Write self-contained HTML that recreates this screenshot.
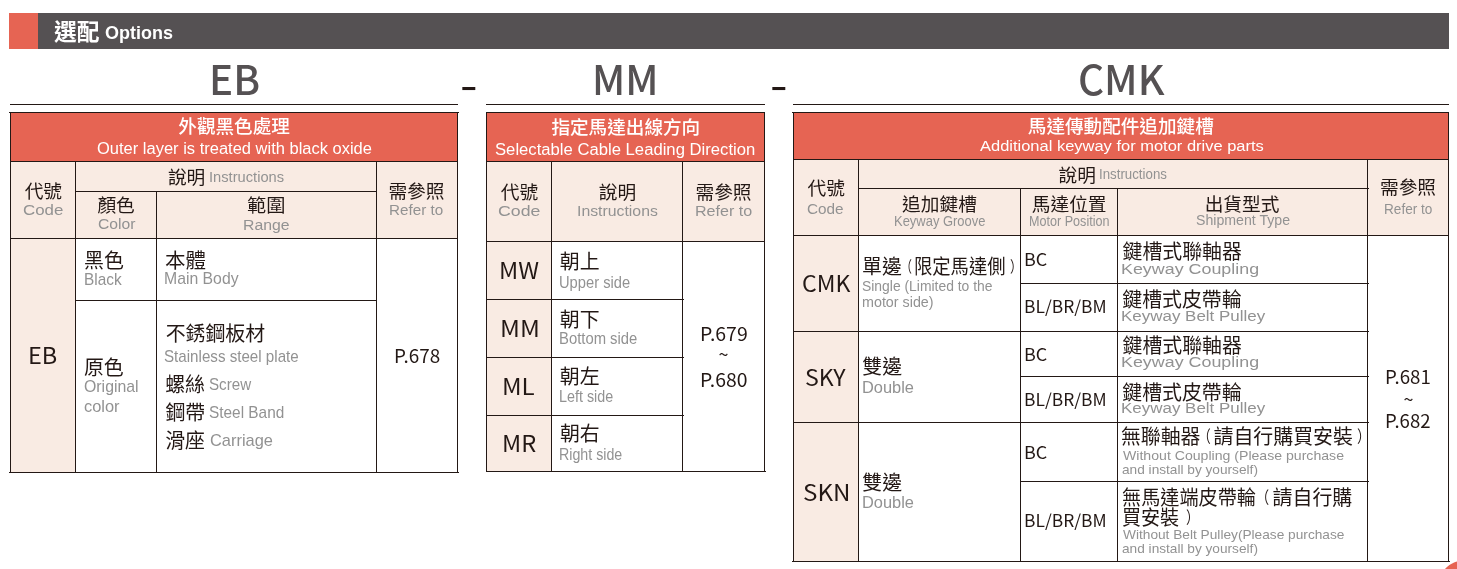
<!DOCTYPE html>
<html lang="zh-Hant"><head><meta charset="utf-8"><title>選配 Options</title>
<style>
html,body{margin:0;padding:0;background:#fff}
#p{position:relative;width:1457px;height:569px;overflow:hidden;background:#fff;will-change:transform}
.r{position:absolute}
.rd{background:#e66453}.pk{background:#f9ebe3}.ln{background:#231815}.gb{background:#555153}
.t{position:absolute;white-space:nowrap;line-height:1;transform-origin:0 0}
.zh{font-family:"Liberation Sans","Noto Sans CJK TC","Noto Sans CJK JP",sans-serif}
.zl{font-family:"Noto Sans CJK TC","Liberation Sans",sans-serif}
.en{font-family:"Liberation Sans",sans-serif}
.k{color:#231815}.g{color:#929292}.w{color:#fff}.b{color:#555153}
</style></head>
<body><div id="p">
<div class="r rd" style="left:9px;top:13px;width:29px;height:36px"></div>
<div class="r gb" style="left:38px;top:13px;width:1411px;height:36px"></div>
<div class="r ln" style="left:10px;top:104px;width:448px;height:1px"></div>
<div class="r ln" style="left:486px;top:104px;width:279px;height:1px"></div>
<div class="r ln" style="left:793px;top:104px;width:656px;height:1px"></div>
<div class="r rd" style="left:10px;top:112px;width:447px;height:49px"></div>
<div class="r pk" style="left:10px;top:161px;width:447px;height:77px"></div>
<div class="r pk" style="left:10px;top:238px;width:65px;height:234px"></div>
<div class="r ln" style="left:9px;top:112px;width:450px;height:1px"></div>
<div class="r ln" style="left:9px;top:472px;width:450px;height:1px"></div>
<div class="r ln" style="left:10px;top:112px;width:1px;height:360px"></div>
<div class="r ln" style="left:457px;top:112px;width:1px;height:361px"></div>
<div class="r ln" style="left:10px;top:161px;width:447px;height:1px"></div>
<div class="r ln" style="left:75px;top:191px;width:301px;height:1px"></div>
<div class="r ln" style="left:10px;top:238px;width:447px;height:1px"></div>
<div class="r ln" style="left:75px;top:300px;width:301px;height:1px"></div>
<div class="r ln" style="left:75px;top:161px;width:1px;height:311px"></div>
<div class="r ln" style="left:156px;top:191px;width:1px;height:281px"></div>
<div class="r ln" style="left:376px;top:161px;width:1px;height:311px"></div>
<div class="r rd" style="left:486px;top:112px;width:278px;height:49px"></div>
<div class="r pk" style="left:486px;top:161px;width:278px;height:80px"></div>
<div class="r pk" style="left:486px;top:241px;width:65px;height:230px"></div>
<div class="r ln" style="left:486px;top:112px;width:279px;height:1px"></div>
<div class="r ln" style="left:486px;top:471px;width:280px;height:1px"></div>
<div class="r ln" style="left:486px;top:112px;width:1px;height:359px"></div>
<div class="r ln" style="left:764px;top:112px;width:1px;height:360px"></div>
<div class="r ln" style="left:486px;top:161px;width:278px;height:1px"></div>
<div class="r ln" style="left:486px;top:241px;width:278px;height:1px"></div>
<div class="r ln" style="left:486px;top:299px;width:198px;height:1px"></div>
<div class="r ln" style="left:486px;top:357px;width:198px;height:1px"></div>
<div class="r ln" style="left:486px;top:415px;width:198px;height:1px"></div>
<div class="r ln" style="left:551px;top:161px;width:1px;height:310px"></div>
<div class="r ln" style="left:682px;top:161px;width:1px;height:310px"></div>
<div class="r rd" style="left:793px;top:112px;width:655px;height:47px"></div>
<div class="r pk" style="left:793px;top:159px;width:655px;height:76px"></div>
<div class="r pk" style="left:793px;top:235px;width:65px;height:326px"></div>
<div class="r ln" style="left:792px;top:112px;width:657px;height:1px"></div>
<div class="r ln" style="left:792px;top:561px;width:658px;height:1px"></div>
<div class="r ln" style="left:793px;top:112px;width:1px;height:449px"></div>
<div class="r ln" style="left:1448px;top:112px;width:1px;height:450px"></div>
<div class="r ln" style="left:793px;top:159px;width:655px;height:1px"></div>
<div class="r ln" style="left:858px;top:188px;width:511px;height:1px"></div>
<div class="r ln" style="left:793px;top:235px;width:655px;height:1px"></div>
<div class="r ln" style="left:1020px;top:283px;width:349px;height:1px"></div>
<div class="r ln" style="left:793px;top:331px;width:576px;height:1px"></div>
<div class="r ln" style="left:1020px;top:376px;width:349px;height:1px"></div>
<div class="r ln" style="left:793px;top:422px;width:576px;height:1px"></div>
<div class="r ln" style="left:1020px;top:481px;width:349px;height:1px"></div>
<div class="r ln" style="left:858px;top:159px;width:1px;height:402px"></div>
<div class="r ln" style="left:1020px;top:188px;width:1px;height:373px"></div>
<div class="r ln" style="left:1117px;top:188px;width:1px;height:373px"></div>
<div class="r ln" style="left:1367px;top:159px;width:1px;height:402px"></div>
<div class="r rd" style="left:1440px;top:561px;width:44px;height:44px;border-radius:50%"></div>
<span id="i0" class="t zh w" style="left:54.1px;top:21.28px;font-size:22.77px;font-weight:700">選配</span>
<span id="i1" class="t en w" style="left:105.26px;top:24.05px;font-size:18.31px;font-weight:700;transform:scaleX(0.9822)">Options</span>
<span id="i2" class="t zl b" style="left:208.93px;top:57.9px;font-size:40.6px;font-weight:500;transform:scaleX(0.9923)">EB</span>
<span id="i3" class="t zl b" style="left:591.75px;top:57.95px;font-size:40.6px;font-weight:500;transform:scaleX(0.9866)">MM</span>
<span id="i4" class="t zl b" style="left:1077.96px;top:58.15px;font-size:40.6px;font-weight:500;transform:scaleX(0.9964)">CMK</span>
<span id="i5" class="t zl k" style="left:459.61px;top:64.75px;font-size:36.0px;font-weight:500;transform:scaleX(1.3684)">-</span>
<span id="i6" class="t zl k" style="left:769.61px;top:64.75px;font-size:36.0px;font-weight:500;transform:scaleX(1.3684)">-</span>
<span id="i7" class="t zh w" style="left:178.32px;top:118.15px;font-size:18.6px;font-weight:500">外觀黑色處理</span>
<span id="i8" class="t en w" style="left:96.96px;top:141.02px;font-size:15.8px;transform:scaleX(1.0439)">Outer layer is treated with black oxide</span>
<span id="i9" class="t zh k" style="left:24.67px;top:183.22px;font-size:18.7px">代號</span>
<span id="i10" class="t en g" style="left:22.97px;top:201.66px;font-size:15.2px;transform:scaleX(1.1114)">Code</span>
<span id="i11" class="t zh k" style="left:167.88px;top:169.25px;font-size:18.7px">說明</span>
<span id="i12" class="t en g" style="left:208.65px;top:168.88px;font-size:15.2px;transform:scaleX(0.9669)">Instructions</span>
<span id="i13" class="t zh k" style="left:97.38px;top:197.18px;font-size:18.7px">顏色</span>
<span id="i14" class="t en g" style="left:97.73px;top:216.07px;font-size:15.2px;transform:scaleX(1.0326)">Color</span>
<span id="i15" class="t zh k" style="left:246.67px;top:197.02px;font-size:18.7px;transform:scaleX(1.0273)">範圍</span>
<span id="i16" class="t en g" style="left:243.1px;top:216.85px;font-size:15.2px;transform:scaleX(1.0409)">Range</span>
<span id="i17" class="t zh k" style="left:388.45px;top:183.42px;font-size:18.7px">需參照</span>
<span id="i18" class="t en g" style="left:389.35px;top:202.35px;font-size:15.2px;transform:scaleX(1.0019)">Refer to</span>
<span id="i19" class="t zl k" style="left:28.23px;top:343.28px;font-size:22.3px;transform:scaleX(1.0531)">EB</span>
<span id="i20" class="t zh k" style="left:84.1px;top:252.33px;font-size:19.9px">黑色</span>
<span id="i21" class="t en g" style="left:83.71px;top:270.85px;font-size:16.1px;transform:scaleX(0.9553)">Black</span>
<span id="i22" class="t zh k" style="left:164.93px;top:252.48px;font-size:19.9px;transform:scaleX(1.0327)">本體</span>
<span id="i23" class="t en g" style="left:164.47px;top:269.75px;font-size:16.1px;transform:scaleX(0.9806)">Main Body</span>
<span id="i24" class="t zh k" style="left:83.92px;top:359.18px;font-size:19.9px">原色</span>
<span id="i25" class="t en g" style="left:83.76px;top:378.12px;font-size:16.1px;transform:scaleX(0.985)">Original</span>
<span id="i26" class="t en g" style="left:83.74px;top:398.22px;font-size:16.1px;transform:scaleX(1.0193)">color</span>
<span id="i27" class="t zh k" style="left:165.68px;top:325.42px;font-size:19.9px">不銹鋼板材</span>
<span id="i28" class="t en g" style="left:164.49px;top:348.35px;font-size:16.1px;transform:scaleX(0.9411)">Stainless steel plate</span>
<span id="i29" class="t zh k" style="left:165.18px;top:376.38px;font-size:19.9px">螺絲</span>
<span id="i30" class="t en g" style="left:209.29px;top:376.26px;font-size:16.1px;transform:scaleX(0.9432)">Screw</span>
<span id="i31" class="t zh k" style="left:165.42px;top:403.97px;font-size:19.9px">鋼帶</span>
<span id="i32" class="t en g" style="left:209.28px;top:404.05px;font-size:16.1px;transform:scaleX(0.9558)">Steel Band</span>
<span id="i33" class="t zh k" style="left:165.18px;top:431.8px;font-size:19.9px">滑座</span>
<span id="i34" class="t en g" style="left:209.53px;top:432.13px;font-size:16.1px;transform:scaleX(1.0207)">Carriage</span>
<span id="i35" class="t zl k" style="left:393.88px;top:346.4px;font-size:18.2px;transform:scaleX(1.0381)">P.678</span>
<span id="i36" class="t zh w" style="left:551.42px;top:118.78px;font-size:18.6px;font-weight:500">指定馬達出線方向</span>
<span id="i37" class="t en w" style="left:494.89px;top:142.23px;font-size:15.8px;transform:scaleX(1.0547)">Selectable Cable Leading Direction</span>
<span id="i38" class="t zh k" style="left:500.78px;top:184.48px;font-size:18.7px">代號</span>
<span id="i39" class="t en g" style="left:498.03px;top:202.75px;font-size:15.2px;transform:scaleX(1.1657)">Code</span>
<span id="i40" class="t zh k" style="left:598.78px;top:184.35px;font-size:18.7px">說明</span>
<span id="i41" class="t en g" style="left:576.54px;top:203.05px;font-size:15.2px;transform:scaleX(1.0411)">Instructions</span>
<span id="i42" class="t zh k" style="left:695.46px;top:184.48px;font-size:18.7px">需參照</span>
<span id="i43" class="t en g" style="left:694.68px;top:203.03px;font-size:15.2px;transform:scaleX(1.0596)">Refer to</span>
<span id="i44" class="t zl k" style="left:498.71px;top:258.32px;font-size:22.3px;transform:scaleX(1.0619)">MW</span>
<span id="i45" class="t zl k" style="left:499.63px;top:316.32px;font-size:22.3px;transform:scaleX(1.0992)">MM</span>
<span id="i46" class="t zl k" style="left:502.46px;top:374.42px;font-size:22.3px;transform:scaleX(1.0826)">ML</span>
<span id="i47" class="t zl k" style="left:501.92px;top:431.42px;font-size:22.3px;transform:scaleX(1.0598)">MR</span>
<span id="i48" class="t zh k" style="left:559.8px;top:253.27px;font-size:19.9px">朝上</span>
<span id="i49" class="t en g" style="left:559.46px;top:274.4px;font-size:16.1px;transform:scaleX(0.9135)">Upper side</span>
<span id="i50" class="t zh k" style="left:559.8px;top:311.27px;font-size:19.9px">朝下</span>
<span id="i51" class="t en g" style="left:559.45px;top:329.75px;font-size:16.1px;transform:scaleX(0.9217)">Bottom side</span>
<span id="i52" class="t zh k" style="left:559.8px;top:368.18px;font-size:19.9px">朝左</span>
<span id="i53" class="t en g" style="left:559.49px;top:388.25px;font-size:16.1px;transform:scaleX(0.8902)">Left side</span>
<span id="i54" class="t zh k" style="left:559.92px;top:425.1px;font-size:19.9px">朝右</span>
<span id="i55" class="t en g" style="left:558.98px;top:446.45px;font-size:16.1px;transform:scaleX(0.8835)">Right side</span>
<span id="i56" class="t zl k" style="left:699.63px;top:324.2px;font-size:18.2px;transform:scaleX(1.0707)">P.679</span>
<span id="i57" class="t zl k" style="left:718.5px;top:344.12px;font-size:18px">~</span>
<span id="i58" class="t zl k" style="left:699.64px;top:370.15px;font-size:18.2px;transform:scaleX(1.0643)">P.680</span>
<span id="i59" class="t zh w" style="left:1027.8px;top:118.22px;font-size:18.6px;font-weight:500">馬達傳動配件追加鍵槽</span>
<span id="i60" class="t en w" style="left:979.9px;top:139.48px;font-size:14.89px;transform:scaleX(1.1073)">Additional keyway for motor drive parts</span>
<span id="i61" class="t zh k" style="left:807.62px;top:179.98px;font-size:18.7px">代號</span>
<span id="i62" class="t en g" style="left:807.3px;top:202.21px;font-size:14.3px;transform:scaleX(1.0718)">Code</span>
<span id="i63" class="t zh k" style="left:1058.47px;top:166.8px;font-size:18.7px">說明</span>
<span id="i64" class="t en g" style="left:1099.44px;top:167.22px;font-size:14.3px;transform:scaleX(0.9291)">Instructions</span>
<span id="i65" class="t zh k" style="left:902.12px;top:196.08px;font-size:18.7px">追加鍵槽</span>
<span id="i66" class="t en g" style="left:893.98px;top:213.9px;font-size:14.3px;transform:scaleX(0.9061)">Keyway Groove</span>
<span id="i67" class="t zh k" style="left:1031.8px;top:196.08px;font-size:18.7px">馬達位置</span>
<span id="i68" class="t en g" style="left:1028.5px;top:214.38px;font-size:14.3px;transform:scaleX(0.8807)">Motor Position</span>
<span id="i69" class="t zh k" style="left:1204.65px;top:196.18px;font-size:18.7px">出貨型式</span>
<span id="i70" class="t en g" style="left:1195.56px;top:213.11px;font-size:14.3px;transform:scaleX(0.9888)">Shipment Type</span>
<span id="i71" class="t zh k" style="left:1380.0px;top:178.77px;font-size:18.7px">需參照</span>
<span id="i72" class="t en g" style="left:1383.51px;top:202.32px;font-size:14.3px;transform:scaleX(0.951)">Refer to</span>
<span id="i73" class="t zl k" style="left:801.8px;top:270.62px;font-size:22.3px;transform:scaleX(1.0365)">CMK</span>
<span id="i74" class="t zl k" style="left:805.0px;top:365.22px;font-size:22.3px;transform:scaleX(1.0384)">SKY</span>
<span id="i75" class="t zl k" style="left:802.75px;top:479.73px;font-size:22.3px;transform:scaleX(1.0832)">SKN</span>
<span id="i76" class="t zh k" style="left:862.12px;top:258.23px;font-size:19.9px">單邊</span>
<span id="i77" class="t zh k" style="left:901.27px;top:258.76px;font-size:15.58px;transform:scaleX(0.7)">（</span>
<span id="i78" class="t zh k" style="left:914.29px;top:258.18px;font-size:19.9px;transform:scaleX(0.9205)">限定馬達側</span>
<span id="i79" class="t zh k" style="left:1010.02px;top:258.77px;font-size:15.58px;transform:scaleX(0.775)">）</span>
<span id="i80" class="t en g" style="left:862.3px;top:279.38px;font-size:14.9px;transform:scaleX(0.9329)">Single (Limited to the</span>
<span id="i81" class="t en g" style="left:862.04px;top:295.16px;font-size:14.9px;transform:scaleX(0.9614)">motor side)</span>
<span id="i82" class="t zh k" style="left:862.28px;top:357.52px;font-size:19.9px">雙邊</span>
<span id="i83" class="t en g" style="left:861.63px;top:379.25px;font-size:16.1px;transform:scaleX(1.0184)">Double</span>
<span id="i84" class="t zh k" style="left:862.28px;top:474.32px;font-size:19.9px">雙邊</span>
<span id="i85" class="t en g" style="left:861.63px;top:493.95px;font-size:16.1px;transform:scaleX(1.0184)">Double</span>
<span id="i86" class="t zl k" style="left:1023.76px;top:250.1px;font-size:17.1px;transform:scaleX(1.0532)">BC</span>
<span id="i87" class="t zl k" style="left:1023.82px;top:297.15px;font-size:17.1px;transform:scaleX(1.0186)">BL/BR/BM</span>
<span id="i88" class="t zl k" style="left:1023.76px;top:345.15px;font-size:17.1px;transform:scaleX(1.0532)">BC</span>
<span id="i89" class="t zl k" style="left:1023.82px;top:389.65px;font-size:17.1px;transform:scaleX(1.0186)">BL/BR/BM</span>
<span id="i90" class="t zl k" style="left:1023.76px;top:442.75px;font-size:17.1px;transform:scaleX(1.0532)">BC</span>
<span id="i91" class="t zl k" style="left:1023.82px;top:511.25px;font-size:17.1px;transform:scaleX(1.0186)">BL/BR/BM</span>
<span id="i92" class="t zh k" style="left:1122.5px;top:243.42px;font-size:19.9px">鍵槽式聯軸器</span>
<span id="i93" class="t en g" style="left:1121.25px;top:260.8px;font-size:15.4px;transform:scaleX(1.1615)">Keyway Coupling</span>
<span id="i94" class="t zh k" style="left:1122.25px;top:291.13px;font-size:19.9px">鍵槽式皮帶輪</span>
<span id="i95" class="t en g" style="left:1121.32px;top:307.7px;font-size:15.4px;transform:scaleX(1.1019)">Keyway Belt Pulley</span>
<span id="i96" class="t zh k" style="left:1122.5px;top:337.02px;font-size:19.9px">鍵槽式聯軸器</span>
<span id="i97" class="t en g" style="left:1121.25px;top:354.3px;font-size:15.4px;transform:scaleX(1.1615)">Keyway Coupling</span>
<span id="i98" class="t zh k" style="left:1122.25px;top:384.18px;font-size:19.9px">鍵槽式皮帶輪</span>
<span id="i99" class="t en g" style="left:1121.32px;top:400.2px;font-size:15.4px;transform:scaleX(1.1019)">Keyway Belt Pulley</span>
<span id="i100" class="t zh k" style="left:1120.9px;top:428.04px;font-size:19.9px">無聯軸器</span>
<span id="i101" class="t zh k" style="left:1197.9px;top:427.83px;font-size:16.47px;transform:scaleX(0.775)">（</span>
<span id="i102" class="t zh k" style="left:1213.6px;top:427.86px;font-size:19.9px">請自行購買安裝</span>
<span id="i103" class="t zh k" style="left:1356.58px;top:427.83px;font-size:16.47px;transform:scaleX(0.825)">）</span>
<span id="i104" class="t en g" style="left:1122.7px;top:450.32px;font-size:12.7px;transform:scaleX(1.1112)">Without Coupling (Please purchase</span>
<span id="i105" class="t en g" style="left:1122.16px;top:463.98px;font-size:12.7px;transform:scaleX(1.0768)">and install by yourself)</span>
<span id="i106" class="t zh k" style="left:1122.04px;top:489.08px;font-size:19.9px;transform:scaleX(0.9622)">無馬達端皮帶輪</span>
<span id="i107" class="t zh k" style="left:1255.6px;top:488.62px;font-size:16.47px;transform:scaleX(0.8)">（</span>
<span id="i108" class="t zh k" style="left:1272.62px;top:489.4px;font-size:19.9px">請自行購</span>
<span id="i109" class="t zh k" style="left:1121.8px;top:509.35px;font-size:19.9px;transform:scaleX(0.9576)">買安裝</span>
<span id="i110" class="t zh k" style="left:1185.9px;top:509.23px;font-size:16.47px;transform:scaleX(0.8)">）</span>
<span id="i111" class="t en g" style="left:1122.7px;top:529.18px;font-size:12.7px;transform:scaleX(1.0789)">Without Belt Pulley(Please purchase</span>
<span id="i112" class="t en g" style="left:1122.16px;top:543.38px;font-size:12.7px;transform:scaleX(1.0768)">and install by yourself)</span>
<span id="i113" class="t zl k" style="left:1384.9px;top:366.6px;font-size:18.2px;transform:scaleX(1.0275)">P.681</span>
<span id="i114" class="t zl k" style="left:1403.5px;top:388.63px;font-size:18px">~</span>
<span id="i115" class="t zl k" style="left:1384.91px;top:411.4px;font-size:18.2px;transform:scaleX(1.0214)">P.682</span>
</div></body></html>
